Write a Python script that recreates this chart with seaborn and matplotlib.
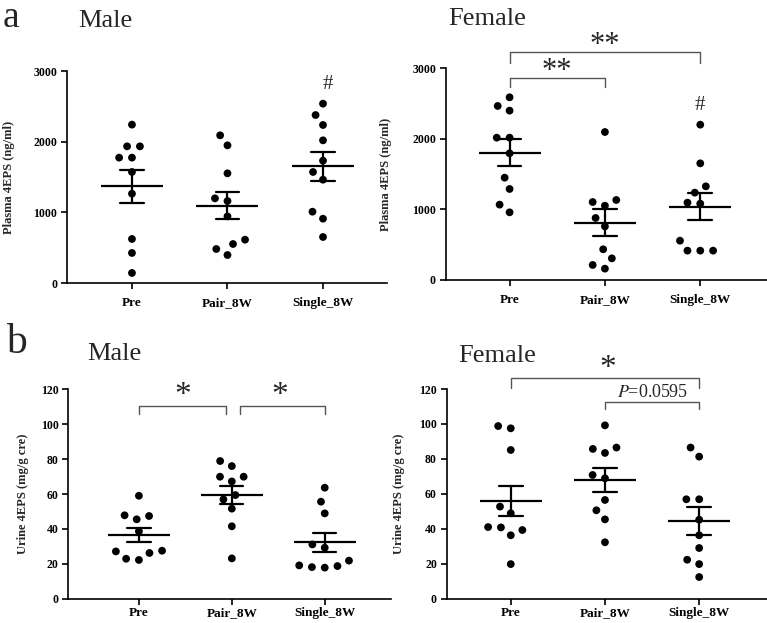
import pandas as pd
import matplotlib
matplotlib.use("Agg")
import matplotlib.pyplot as plt
import seaborn as sns

W, H = 767, 623

groups = ["Pre", "Pair_8W", "Single_8W"]

# Plasma 4EPS (ng/ml), panel a
plasma_male_pre = [2241, 1934, 1934, 1774, 1774, 1571, 1264, 623, 425, 142]
plasma_male_pair = [2090, 1948, 1552, 1198, 1160, 943, 613, 552, 481, 396]
plasma_male_single = [2538, 2377, 2236, 2019, 1731, 1571, 1462, 1009, 910, 651]
plasma_female_pre = [2589, 2466, 2400, 2017, 2017, 1795, 1450, 1290, 1068, 959]
plasma_female_pair = [2097, 1134, 1105, 1053, 879, 760, 435, 307, 213, 161]
plasma_female_single = [2201, 1653, 1327, 1238, 1096, 1082, 557, 416, 416, 416]

# Urine 4EPS (mg/g cre), panel b
urine_male_pre = [59.0, 47.4, 47.8, 45.5, 38.6, 27.5, 27.1, 26.2, 22.9, 22.2]
urine_male_pair = [78.9, 76.0, 69.9, 69.9, 67.2, 59.4, 56.9, 51.6, 41.5, 23.1]
urine_male_single = [63.6, 55.6, 48.9, 31.1, 29.2, 21.8, 18.7, 17.8, 18.1, 19.1]
urine_female_pre = [98.8, 97.5, 85.1, 52.7, 48.9, 41.0, 40.8, 39.3, 36.3, 19.8]
urine_female_pair = [99.2, 86.5, 85.7, 83.4, 70.8, 68.9, 56.5, 50.6, 45.4, 32.3]
urine_female_single = [86.5, 81.3, 56.9, 56.9, 45.2, 36.3, 29.0, 22.3, 19.8, 12.4]


def long_df(pre, pair, single):
    rows = []
    for g, vals in zip(groups, [pre, pair, single]):
        for v in vals:
            rows.append({"group": g, "value": v})
    return pd.DataFrame(rows)


def px_rect(left, right, top, bottom):
    return [left / W, 1 - bottom / H, (right - left) / W, (bottom - top) / H]


sns.set_theme(style="ticks")
plt.rcParams["font.family"] = ["Liberation Serif", "DejaVu Serif"]
plt.rcParams["mathtext.fontset"] = "stix"

fig = plt.figure(figsize=(W / 100, H / 100), dpi=100)

panels = [
    # data, axes rect (px), xlim, ylim, yticks, ylabel, label x offset (px), xtick pad
    (long_df(plasma_male_pre, plasma_male_pair, plasma_male_single),
     px_rect(67, 387, 71, 283), (-0.68, 2.67), (0, 3000), [0, 1000, 2000, 3000],
     "Plasma 4EPS (ng/ml)", -52, 6),
    (long_df(plasma_female_pre, plasma_female_pair, plasma_female_single),
     px_rect(445.7, 767, 68.3, 280), (-0.67, 2.70), (0, 3000), [0, 1000, 2000, 3000],
     "Plasma 4EPS (ng/ml)", -54, 6),
    (long_df(urine_male_pre, urine_male_pair, urine_male_single),
     px_rect(68.3, 390.7, 389.3, 598.7), (-0.76, 2.71), (0, 120), list(range(0, 121, 20)),
     "Urine 4EPS (mg/g cre)", -39, 2),
    (long_df(urine_female_pre, urine_female_pair, urine_female_single),
     px_rect(446.7, 767, 389, 598.7), (-0.68, 2.72), (0, 120), list(range(0, 121, 20)),
     "Urine 4EPS (mg/g cre)", -42, 2),
]

axes = []
for df, rect, xlim, ylim, yticks, ylabel, lab_off, xpad in panels:
    ax = fig.add_axes(rect)
    # invisible edge widens the swarm spacing like the original scatter layout
    sns.swarmplot(data=df, x="group", y="value", order=groups, color="black",
                  size=5.6, linewidth=3.2, edgecolor="none", ax=ax, zorder=2)
    sns.pointplot(data=df, x="group", y="value", order=groups, errorbar="se",
                  capsize=0.25, color="black", marker="_", markersize=45,
                  markeredgewidth=1.6, linestyle="none",
                  err_kws={"linewidth": 1.6}, ax=ax, zorder=3)
    ax.set_xlim(*xlim)
    ax.set_ylim(*ylim)
    ax.set_yticks(yticks)
    ax.set_xlabel("")
    ax.set_ylabel(ylabel, fontsize=9, fontweight="bold")
    width_px = rect[2] * W
    ax.yaxis.set_label_coords(lab_off / width_px, 0.5)
    sns.despine(ax=ax)
    for s in ["left", "bottom"]:
        ax.spines[s].set_linewidth(1.2)
        ax.spines[s].set_color("black")
    ax.tick_params(direction="out", length=4, width=1.2, colors="black", pad=3)
    ax.tick_params(axis="y", labelsize=8.5)
    ax.tick_params(axis="x", labelsize=9.5, pad=xpad)
    for lab in ax.get_xticklabels() + ax.get_yticklabels():
        lab.set_fontweight("bold")
    axes.append(ax)

bracket_color = "#555555"


def bracket(ax, x1, x2, y, ybot, text=None, ty=None, tx=None, size=20):
    ax.plot([x1, x1, x2, x2], [ybot, y, y, ybot], color=bracket_color, lw=1.0,
            clip_on=False, zorder=4)
    if text:
        ax.text((x1 + x2) / 2 if tx is None else tx, ty, text, ha="center", va="center",
                fontsize=size, clip_on=False)


# a Male
axes[0].text(2.05, 2816, "#", ha="center", va="center", fontsize=15)
# a Female
bracket(axes[1], 0, 2, 3235, 3071, "**", 3330, size=22)
bracket(axes[1], 0, 1, 2858, 2739, "**", 2960, size=22)
axes[1].text(2.0, 2466, "#", ha="center", va="center", fontsize=15)
# b Male
bracket(axes[2], 0, 0.94, 110.6, 106, "*", 116.5, tx=0.47, size=24)
bracket(axes[2], 1.09, 2.0, 110.6, 106, "*", 116.5, tx=1.52, size=24)
# b Female
bracket(axes[3], 0, 2, 126.1, 120.4, "*", 131.5, tx=1.03, size=24)
bracket(axes[3], 1, 2, 112.8, 108.4)
axes[3].text(1.5, 118.1, "$\\mathit{P}$=0.0595", ha="center", va="center", fontsize=13)


def fig_text(x, y, s, size, va="baseline"):
    fig.text(x / W, 1 - y / H, s, fontsize=size, va=va, ha="left")


fig_text(3, 0.5, "a", 27, va="top")
fig_text(78, 27, "Male", 19)
fig_text(448, 25, "Female", 19)
fig_text(6, 353, "b", 30)
fig_text(87, 360, "Male", 19)
fig_text(458, 362, "Female", 19)

fig.savefig("out.png", dpi=100, facecolor="white")
